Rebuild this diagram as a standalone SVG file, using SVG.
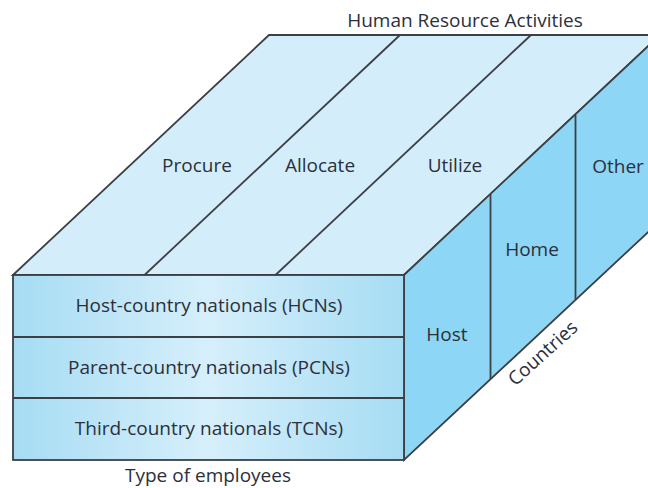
<svg xmlns="http://www.w3.org/2000/svg" width="648" height="488" viewBox="0 0 648 488">
  <style>
    .edge { stroke: #3c3f44; stroke-width: 1.8; stroke-linejoin: miter; }
    .top { fill: #d3eefa; }
    .side { fill: #8dd6f5; }
    .lbl { font-family: "Open Sans", "Noto Sans", "DejaVu Sans", sans-serif; font-size: 19px; fill: #2b303c; text-anchor: middle; }
  </style>
  <defs>
    <linearGradient id="frontGrad" x1="0" y1="0" x2="1" y2="0">
      <stop offset="0" stop-color="#a6dcf3"/>
      <stop offset="0.5" stop-color="#d6effb"/>
      <stop offset="1" stop-color="#a6dcf3"/>
    </linearGradient>
    <clipPath id="canvas"><rect x="0" y="0" width="648" height="488"/></clipPath>
  </defs>
  <rect width="648" height="488" fill="#ffffff"/>

  <g clip-path="url(#canvas)">
    <!-- top face: HR activities -->
    <g id="top-face">
      <polygon class="top edge" points="13,275 269,35 660,35 404,275"/>
    </g>
    <!-- side face: countries -->
    <g id="side-face">
      <polygon class="side edge" points="404,275 660,35 660,221 404,460"/>
    </g>
    <!-- front face: type of employees -->
    <g id="front-face">
      <rect class="edge" x="13" y="275" width="391" height="185" fill="url(#frontGrad)"/>
    </g>

    <!-- dividers -->
    <g id="connectors" class="edge" fill="none">
      <line x1="144.5" y1="275" x2="400" y2="35"/>
      <line x1="275.5" y1="275" x2="531" y2="35"/>
      <line x1="490.5" y1="194" x2="490.5" y2="379"/>
      <line x1="575.5" y1="115" x2="575.5" y2="300"/>
      <line x1="13" y1="337" x2="404" y2="337"/>
      <line x1="13" y1="398" x2="404" y2="398"/>
    </g>
  </g>

  <g id="procure"><text class="lbl" x="197" y="172">Procure</text></g>
  <g id="allocate"><text class="lbl" x="320" y="172">Allocate</text></g>
  <g id="utilize"><text class="lbl" x="455" y="172">Utilize</text></g>
  <g id="other"><text class="lbl" x="618" y="173">Other</text></g>
  <g id="home"><text class="lbl" x="532" y="256">Home</text></g>
  <g id="host"><text class="lbl" x="447" y="341">Host</text></g>
  <g id="hcn"><text class="lbl" x="209" y="312">Host-country nationals (HCNs)</text></g>
  <g id="pcn"><text class="lbl" x="209" y="374">Parent-country nationals (PCNs)</text></g>
  <g id="tcn"><text class="lbl" x="209" y="435">Third-country nationals (TCNs)</text></g>

  <g id="axis-labels">
    <text class="lbl" x="465" y="27">Human Resource Activities</text>
    <text class="lbl" x="208" y="482">Type of employees</text>
    <text class="lbl" transform="translate(547,358) rotate(-42)">Countries</text>
  </g>
</svg>
